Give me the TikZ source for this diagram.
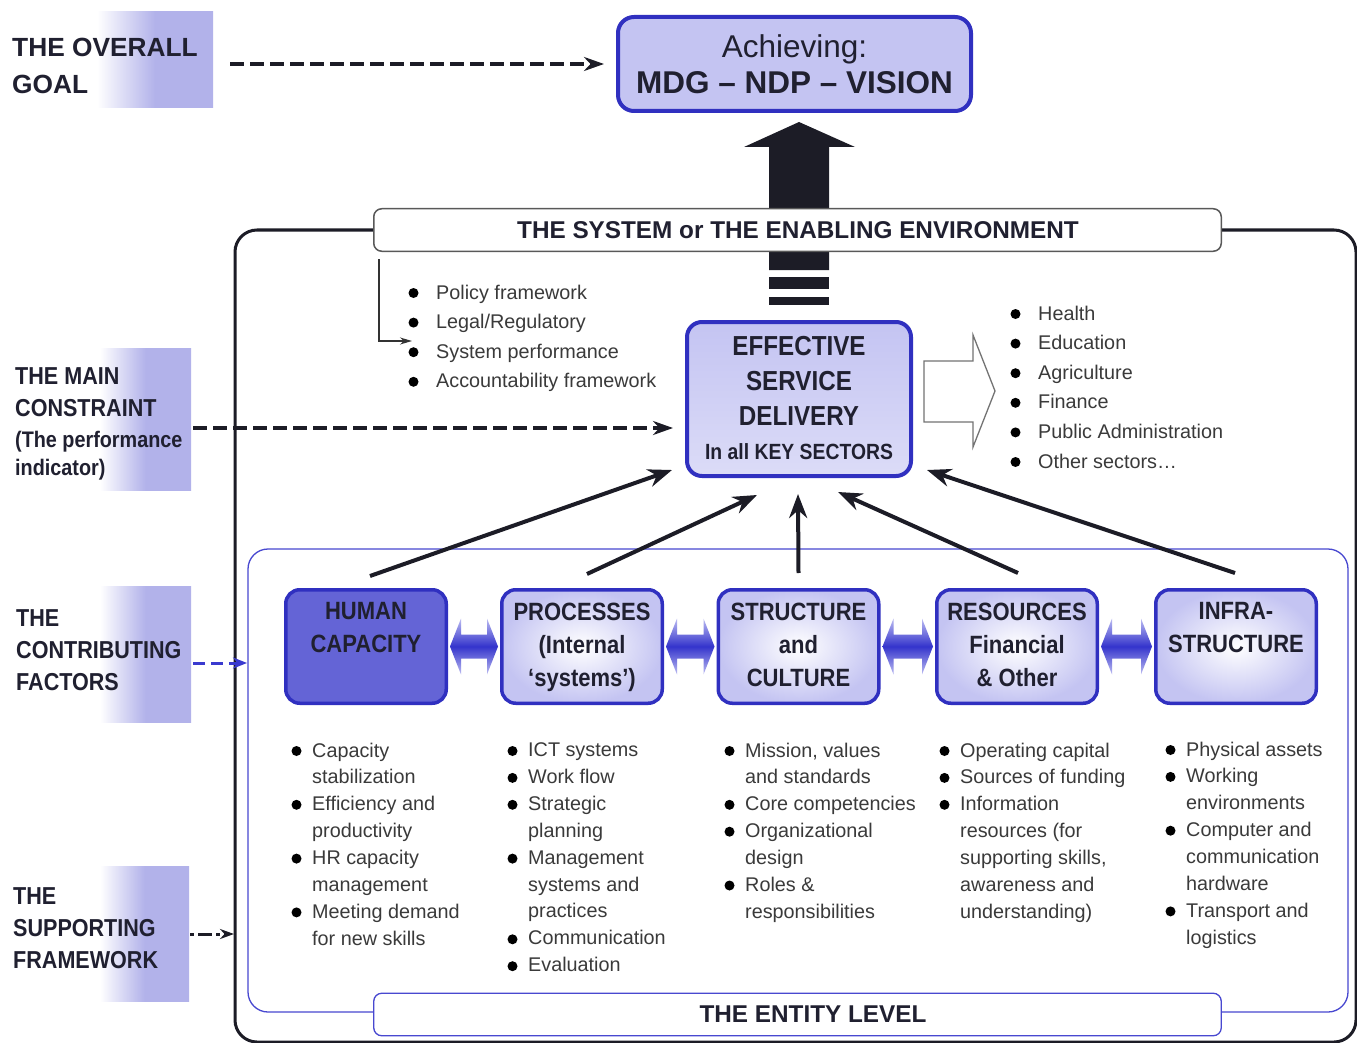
\documentclass[tikz,border=0pt]{standalone}
\usepackage{graphicx}
\usepackage{fontspec}
\setmainfont{Liberation Sans}
\newfontfamily\hb{Liberation Sans}[FakeStretch=0.88]
\usetikzlibrary{arrows.meta,calc}
\definecolor{bblue}{HTML}{3030C0}
\definecolor{lav}{HTML}{C4C4F2}
\definecolor{lablav}{HTML}{B2B2EA}
\definecolor{hcfill}{HTML}{6464D6}
\definecolor{txt}{HTML}{202030}
\definecolor{gtxt}{HTML}{3A3A3A}
\definecolor{arr}{HTML}{1C1C26}
\definecolor{dlav}{HTML}{BCBCF2}
\definecolor{dblue}{HTML}{3434CC}
\definecolor{iblue}{HTML}{4848D0}
\definecolor{cblue}{HTML}{3A3ACF}
\newcommand\bl{\hspace*{21pt}}
\newcommand\bL{\hspace*{28pt}}
\newcommand\ind{\hspace*{21pt}}
% bullets drawn as dots: #1 node, #2 line pitch, #3 list of line indices
\newcommand\bulletsat[3]{\foreach \i in {#3} {\fill[black] ([xshift=5.5pt, yshift=-8.5pt-\i*#2pt]#1.north west) circle (5pt);}}
\newcommand\dblarr[2]{\path[dblshade] let \p1=([xshift=2pt]#1.east), \p2=([xshift=-2pt]#2.west) in
  (\x1,\y1) -- (\x1+11pt,\y1+28pt) -- (\x1+11pt,\y1+12pt) -- (\x2-11pt,\y1+12pt) -- (\x2-11pt,\y1+28pt)
  -- (\x2,\y1) -- (\x2-11pt,\y1-28pt) -- (\x2-11pt,\y1-12pt) -- (\x1+11pt,\y1-12pt) -- (\x1+11pt,\y1-28pt) -- cycle;}
\tikzset{
  labbox/.style={inner sep=0pt, draw=none, left color=white, right color=lablav, middle color=lablav},
  lbl/.style={anchor=north west, inner sep=0pt, align=left, text=txt},
  lst/.style={anchor=north west, inner sep=0pt, align=left, text=gtxt},
  fbox/.style={draw=bblue, line width=3.5pt, rounded corners=14pt, minimum width=160.5pt, minimum height=113.5pt, inner sep=0pt},
  boxtxt/.style={anchor=north, inner sep=0pt, align=center, text=txt, font=\hb\bfseries\fontsize{25}{33}\selectfont},
  darr/.style={line width=4pt, draw=arr, dash pattern=on 14pt off 6pt, -{Stealth[length=20pt,width=14pt]}},
  barr/.style={line width=4pt, draw=arr, -{Stealth[length=24pt,width=18pt]}},
  dblshade/.style={top color=dlav, bottom color=dlav, middle color=dblue},
  banner/.style={fill=white, rounded corners=8pt, minimum width=847.5pt, minimum height=42.5pt, inner sep=0pt},
  bantxt/.style={inner sep=0pt, text=txt, font=\bfseries\fontsize{24.3}{28}\selectfont},
}
\begin{document}
\begin{tikzpicture}[x=1pt,y=-1pt]
\fill[white] (0,0) rectangle (1357,1043);
\useasboundingbox (0,0) rectangle (1357,1043);
\clip (0,0) rectangle (1357,1043);

% ---- left label boxes
\node[labbox, minimum width=116pt, minimum height=96pt] (goalbox) at (155,60) {};
\node[labbox, minimum width=91pt, minimum height=142pt] (consbox) at (145.5,419) {};
\node[labbox, minimum width=91pt, minimum height=136pt] (contbox) at (145.5,654) {};
\node[labbox, minimum width=89pt, minimum height=135pt] (suppbox) at (144.5,933.5) {};

\node[lbl, font=\bfseries\fontsize{26.3}{37}\selectfont] (goaltxt) at (12,38) {THE OVERALL\\GOAL};
\node[lbl, font=\hb\bfseries\fontsize{24.5}{32}\selectfont] (constxt) at (15,367.2) {THE MAIN\\CONSTRAINT};
\node[lbl, font=\hb\bfseries\fontsize{22.5}{28}\selectfont] (perftxt) at (15,430.6) {(The performance\\indicator)};
\node[lbl, font=\hb\bfseries\fontsize{24.5}{32}\selectfont] (conttxt) at (16,609.2) {THE\\CONTRIBUTING\\FACTORS};
\node[lbl, font=\hb\bfseries\fontsize{24.5}{32}\selectfont] (supptxt) at (13,887.2) {THE\\SUPPORTING\\FRAMEWORK};

% ---- frames
\draw[line width=3pt, arr, rounded corners=22pt] (235,230) rectangle (1356,1042);
\draw[line width=1.3pt, iblue, rounded corners=20pt] (248,549) rectangle (1348,1012);

% ---- goal box
\node[draw=bblue, line width=4pt, rounded corners=16pt, fill=lav, minimum width=353pt, minimum height=94pt,
      inner sep=0pt, align=center, text=txt, font=\fontsize{31.5}{36}\selectfont] (goal) at (794.5,64)
      {Achieving:\\{\bfseries MDG – NDP – VISION}};

% ---- big arrow
\fill[arr] (769,270) -- (769,147) -- (744,147) -- (799,122) -- (855,147) -- (829,147) -- (829,270) -- cycle;
\fill[arr] (769,277) rectangle (829,289);
\fill[arr] (769,297) rectangle (829,305);

% ---- banners
\node[banner, draw=black!65, line width=1.5pt] (sys) at (797.5,230) {};
\node[bantxt] (systxt) at (798,230) {THE SYSTEM or THE ENABLING ENVIRONMENT};
\node[banner, draw=iblue, line width=1.3pt] (ent) at (797.5,1014.5) {};
\node[bantxt] (enttxt) at (813,1014) {THE ENTITY LEVEL};

% ---- corner arrow
\coordinate (ca0) at (379,259);
\coordinate (ca1) at (412,341);
\draw[line width=1.3pt, black!80, -{Stealth[length=12pt,width=7pt]}] (ca0) |- (ca1);

% ---- system list
\node[lst, font=\fontsize{19.8}{29.6}\selectfont] (plist) at (408,284.5)
  {\bL Policy framework\\\bL Legal/Regulatory\\\bL System performance\\\bL Accountability framework};
\bulletsat{plist}{29.6}{0,1,2,3}

% ---- ESD box
\node[draw=bblue, line width=4pt, rounded corners=15pt, top color=lav, bottom color=white!40!lav,
      minimum width=224pt, minimum height=154pt, inner sep=0pt] (esd) at (799,399) {};
\node[inner sep=0pt, anchor=north, align=center, text=txt, font=\hb\bfseries\fontsize{27.5}{35}\selectfont]
  (esdt) at ([yshift=-16pt]esd.north) {EFFECTIVE\\SERVICE\\DELIVERY};
\node[inner sep=0pt, text=txt, font=\hb\bfseries\fontsize{22}{24}\selectfont] (esds) at (799,452) {In all KEY SECTORS};

% ---- hollow arrow and sectors
\draw[black!55, line width=1.3pt, fill=white] (924,361) -- (973,361) -- (973,335) -- (995,391)
  -- (973,447) -- (973,422) -- (924,422) -- cycle;
\node[lst, font=\fontsize{19.8}{29.6}\selectfont] (slist) at (1010,305.5)
  {\bL Health\\\bL Education\\\bL Agriculture\\\bL Finance\\\bL Public Administration\\\bL Other sectors…};
\bulletsat{slist}{29.6}{0,1,2,3,4,5}

% ---- dashed arrows from labels
\coordinate (g0) at (230,64);   \coordinate (g1) at (604,64);
\coordinate (m0) at (193,428);  \coordinate (m1) at (673,428);
\coordinate (c0) at (193,663);  \coordinate (c1) at (247,663);
\coordinate (s0) at (190,934);  \coordinate (s1) at (234,934);
\draw[darr] (g0) -- (g1);
\draw[darr] (m0) -- (m1);
\draw[line width=3pt, cblue, dash pattern=on 12pt off 6pt, -{Stealth[length=14pt,width=11pt]}] (c0) -- (c1);
\draw[line width=3pt, arr, dash pattern=on 4pt off 4pt on 14pt off 4pt, -{Stealth[length=14pt,width=10pt]}] (s0) -- (s1);

% ---- factor boxes
\node[fbox, fill=hcfill] (hc) at (366,646.5) {};
\node[fbox, inner color=white, outer color=lav] (proc) at (582,646.5) {};
\node[fbox, inner color=white, outer color=lav] (stru) at (798.5,646.5) {};
\node[fbox, inner color=white, outer color=lav] (reso) at (1017,646.5) {};
\node[fbox, inner color=white, outer color=lav] (infr) at (1236,646.5) {};
\node[boxtxt] (hct) at ([yshift=-14pt]hc.north) {HUMAN\\CAPACITY};
\node[boxtxt] (proct) at ([yshift=-15pt]proc.north) {PROCESSES\\(Internal\\‘systems’)};
\node[boxtxt] (strut) at ([yshift=-15pt]stru.north) {STRUCTURE\\and\\CULTURE};
\node[boxtxt] (resot) at ([yshift=-15pt]reso.north) {RESOURCES\\Financial\\\& Other};
\node[boxtxt] (infrt) at ([yshift=-14pt]infr.north) {INFRA-\\STRUCTURE};

\dblarr{hc}{proc}
\dblarr{proc}{stru}
\dblarr{stru}{reso}
\dblarr{reso}{infr}

% ---- contributing arrows
\draw[barr] ([shift={(4pt,12pt)}]hc.north) -- ([shift={(-13pt,8pt)}]esd.south west);
\draw[barr] ([shift={(5pt,14pt)}]proc.north) -- ([shift={(-42pt,-17pt)}]esd.south);
\draw[barr] ([shift={(0pt,15pt)}]stru.north) -- ([shift={(-1pt,-16pt)}]esd.south);
\draw[barr] ([shift={(1pt,15pt)}]reso.north) -- ([shift={(39pt,-14pt)}]esd.south);
\draw[barr] ([shift={(-1pt,15pt)}]infr.north) -- ([shift={(14pt,8pt)}]esd.south east);

% ---- bottom lists
\node[lst, font=\fontsize{19.8}{26.9}\selectfont] (l1) at (291,742.5)
  {\bl Capacity\\\ind stabilization\\\bl Efficiency and\\\ind productivity\\\bl HR capacity\\\ind management\\\bl Meeting demand\\\ind for new skills};
\bulletsat{l1}{26.9}{0,2,4,6}
\node[lst, font=\fontsize{19.8}{26.9}\selectfont] (l2) at (507,742.5)
  {\bl ICT systems\\\bl Work flow\\\bl Strategic\\\ind planning\\\bl Management\\\ind systems and\\\ind practices\\\bl Communication\\\bl Evaluation};
\bulletsat{l2}{26.9}{0,1,2,4,7,8}
\node[lst, font=\fontsize{19.8}{26.9}\selectfont] (l3) at (724,742.5)
  {\bl Mission, values\\\ind and standards\\\bl Core competencies\\\bl Organizational\\\ind design\\\bl Roles \&\\\ind responsibilities};
\bulletsat{l3}{26.9}{0,2,3,5}
\node[lst, font=\fontsize{19.8}{26.9}\selectfont] (l4) at (939,742.5)
  {\bl Operating capital\\\bl Sources of funding\\\bl Information\\\ind resources (for\\\ind supporting skills,\\\ind awareness and\\\ind understanding)};
\bulletsat{l4}{26.9}{0,1,2}
\node[lst, font=\fontsize{19.8}{26.9}\selectfont] (l5) at (1165,741.5)
  {\bl Physical assets\\\bl Working\\\ind environments\\\bl Computer and\\\ind communication\\\ind hardware\\\bl Transport and\\\ind logistics};
\bulletsat{l5}{26.9}{0,1,3,6}
\end{tikzpicture}
\end{document}
